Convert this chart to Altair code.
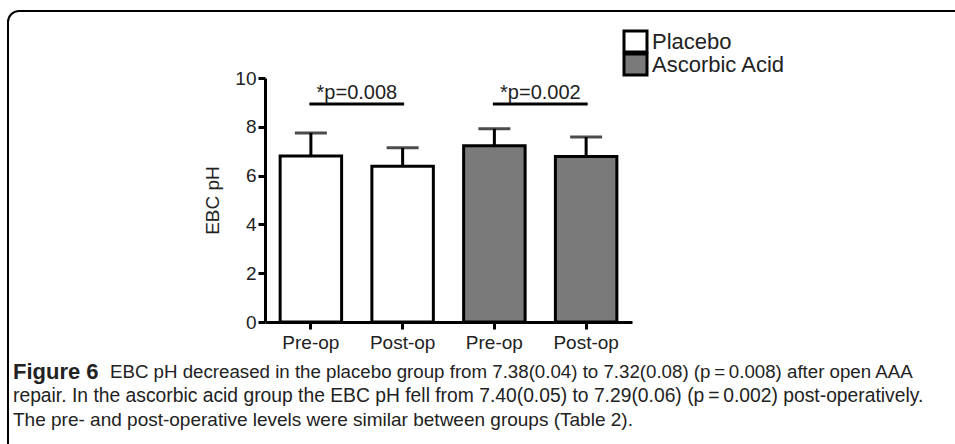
import altair as alt
import pandas as pd

# ---- data ----
groups = ["Placebo", "Placebo", "Ascorbic Acid", "Ascorbic Acid"]
times = ["Pre-op", "Post-op", "Pre-op", "Post-op"]
means = [6.80, 6.38, 7.22, 6.78]
sems = [0.95, 0.76, 0.70, 0.80]

sig_from = ["Placebo|Pre-op", "Ascorbic Acid|Pre-op"]
sig_to = ["Placebo|Post-op", "Ascorbic Acid|Post-op"]
sig_level = [8.93, 8.93]
sig_text_level = [9.38, 9.38]
sig_labels = ["*p=0.008", "*p=0.002"]

legend_groups = ["Placebo", "Ascorbic Acid"]
legend_fills = ["white", "#7a7a7a"]

y_ticks = [0, 2, 4, 6, 8, 10]

caption_bold = "Figure 6"
caption_lines = [
    "EBC pH decreased in the placebo group from 7.38(0.04) to 7.32(0.08) (p\u2009=\u20090.008) after open AAA",
    "repair. In the ascorbic acid group the EBC pH fell from 7.40(0.05) to 7.29(0.06) (p\u2009=\u20090.002) post-operatively.",
    "The pre- and post-operative levels were similar between groups (Table 2).",
]

keys = [g + "|" + t for g, t in zip(groups, times)]
df = pd.DataFrame({
    "key": keys,
    "group": groups,
    "time": times,
    "mean": means,
    "top": [m + s for m, s in zip(means, sems)],
})
sig_df = pd.DataFrame({
    "from": sig_from, "to": sig_to,
    "level": sig_level, "tlevel": sig_text_level, "label": sig_labels,
})

FONT = "Liberation Sans, Arial, sans-serif"
TXT = "#222222"

xscale = alt.Scale(domain=keys, paddingInner=0.33, paddingOuter=0.165)
yscale = alt.Scale(domain=[0, 10], nice=False)
fscale = alt.Scale(domain=legend_groups, range=legend_fills)

x_axis = alt.Axis(title=None, labelExpr="split(datum.label, '|')[1]",
                  labelAngle=0, labelAlign="center", labelBaseline="top",
                  labelFontSize=19, labelPadding=4,
                  tickSize=7, tickWidth=3, domainWidth=3,
                  domainColor="black", tickColor="black",
                  labelColor=TXT, labelFont=FONT)
y_axis = alt.Axis(title="EBC pH", values=y_ticks, grid=False,
                  labelFontSize=19, labelPadding=2, tickSize=7,
                  tickWidth=3, domainWidth=3, domainColor="black",
                  tickColor="black", labelColor=TXT,
                  labelFont=FONT, titleFont=FONT, titleFontSize=19,
                  titleFontWeight="normal", titleColor=TXT,
                  titlePadding=12)


def X(field):
    return alt.X(field, scale=xscale, sort=keys, axis=x_axis)


def Y(field):
    return alt.Y(field, scale=yscale, axis=y_axis)


base = alt.Chart(df)

err = base.mark_rule(color="black", strokeWidth=3).encode(
    x=X("key:N"), y=Y("mean:Q"), y2="top:Q",
)
caps = base.mark_tick(color="black", thickness=3, size=32, orient="horizontal").encode(
    x=X("key:N"), y=Y("top:Q"),
)
bars = base.mark_bar(stroke="black", strokeWidth=3).encode(
    x=X("key:N"), y=Y("mean:Q"),
    fill=alt.Fill("group:N", scale=fscale, legend=None),
)

sig_rule = alt.Chart(sig_df).mark_rule(color="black", strokeWidth=3, strokeCap="square").encode(
    x=X("from:N"), x2="to:N", y=Y("level:Q"),
)
sig_text = alt.Chart(sig_df).mark_text(font=FONT, fontSize=20, color=TXT,
                                       baseline="middle", align="center", dx=46).encode(
    x=X("from:N"), y=Y("tlevel:Q"), text="label:N",
)

# manual legend (boxes + labels), one layer per entry
legend_layers = []
for i, g in enumerate(legend_groups):
    ldf = pd.DataFrame({"g": [g]})
    top = -47 + i * 23
    legend_layers.append(
        alt.Chart(ldf).mark_rect(stroke="black", strokeWidth=3).encode(
            x=alt.value(359), x2=alt.value(382),
            y=alt.value(top), y2=alt.value(top + 21),
            fill=alt.Fill("g:N", scale=fscale, legend=None),
        )
    )
    legend_layers.append(
        alt.Chart(ldf).mark_text(font=FONT, fontSize=22, color=TXT,
                                 align="left", baseline="middle").encode(
            x=alt.value(387), y=alt.value(top + 11), text="g:N",
        )
    )

one = pd.DataFrame({"a": [0]})
frame = alt.Chart(one).mark_rect(fillOpacity=0, stroke="black", strokeWidth=2,
                                 cornerRadius=11).encode(
    x=alt.value(-257), x2=alt.value(760), y=alt.value(-67), y2=alt.value(500))

cap_bold = alt.Chart(pd.DataFrame({"t": [caption_bold]})).mark_text(
    font=FONT, fontSize=22, fontWeight="bold", align="left",
    baseline="middle", color=TXT).encode(
    x=alt.value(-252), y=alt.value(294), text="t:N")
cap1 = alt.Chart(pd.DataFrame({"t": [caption_lines[0]]})).mark_text(
    font=FONT, fontSize=18.7, align="left", baseline="middle", color=TXT).encode(
    x=alt.value(-155), y=alt.value(294), text="t:N")
cap2 = alt.Chart(pd.DataFrame({"t": [caption_lines[1]]})).mark_text(
    font=FONT, fontSize=19.3, align="left", baseline="middle", color=TXT).encode(
    x=alt.value(-252), y=alt.value(318), text="t:N")
cap3 = alt.Chart(pd.DataFrame({"t": [caption_lines[2]]})).mark_text(
    font=FONT, fontSize=19, align="left", baseline="middle", color=TXT).encode(
    x=alt.value(-252), y=alt.value(342), text="t:N")

chart = alt.layer(frame, err, caps, bars, sig_rule, sig_text,
                  *legend_layers, cap_bold, cap1, cap2, cap3).properties(
    width=367, height=244,
    padding={"left": 265, "top": 78, "right": 323, "bottom": 122},
    autosize=alt.AutoSizeParams(type="none"),
    background="white",
).configure_view(stroke=None)

chart.save("out.html", embed_options={"renderer": "svg", "actions": False})
